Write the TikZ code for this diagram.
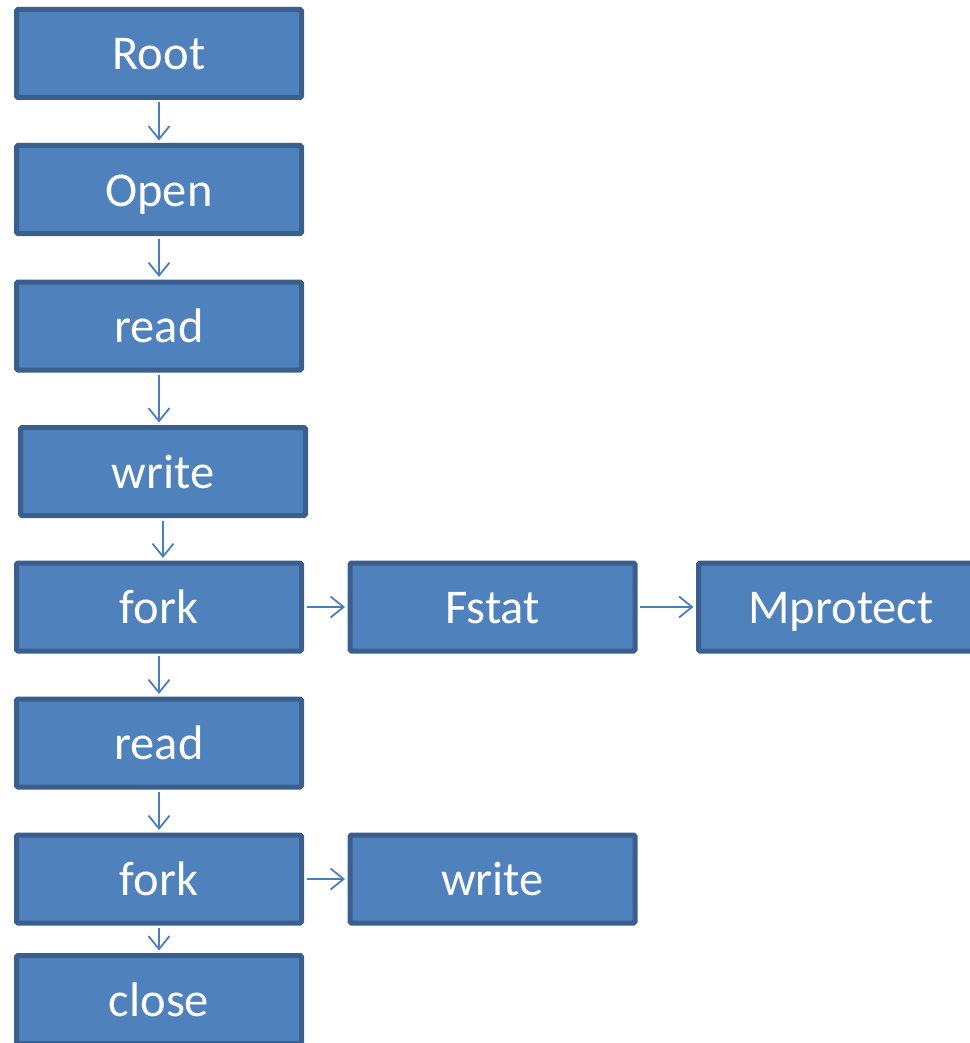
\documentclass[tikz,border=0pt]{standalone}
\usepackage{fontspec}
\setmainfont{Carlito}
\usetikzlibrary{arrows.meta,positioning}

\definecolor{boxfill}{HTML}{4F81BD}
\definecolor{boxline}{HTML}{3A5F8D}
\definecolor{linkcol}{HTML}{4A7EBB}

\begin{document}
\begin{tikzpicture}[
    x=1pt, y=-1pt,
    % ~~~ the call boxes ~~~~~~~~~~~~~~~~~~~~~~~~~~~~~~~
    callbox/.style={
        draw=boxline, fill=boxfill, line width=5pt,
        rounded corners=1.5pt,
        minimum width=285pt, minimum height=88pt,
        inner sep=0pt, text=white,
        text height=33pt, text depth=0pt,
        font=\fontsize{48.5}{52}\selectfont
    },
    % ~~~ the thin connectors ~~~~~~~~~~~~~~~~~~~~~~~~~~
    link/.style={
        draw=linkcol, line width=1.8pt,
        -{Straight Barb[length=13pt,width=21pt,line width=1.8pt]},
        shorten <=2.5pt, shorten >=2.5pt
    },
 ]
    \useasboundingbox (0,0) rectangle (969,1043);
    % ~~~ main column ~~~~~~~~~~~~~~~~~~~~~~~~~~~~~~~~~~~~
    \node[callbox] (root)   at (159, 53.5) {Root};
    \node[callbox] (open)   at (159,189.5) {Open};
    \node[callbox] (readA)  at (159,326)   {read};
    \node[callbox] (writeA) at (163,471.5) {write};
    \node[callbox] (forkA)  at (159,607)   {fork};
    \node[callbox] (readB)  at (159,743)   {read};
    \node[callbox] (forkB)  at (159,879)   {fork};
    \node[callbox] (close)  at (159,999.5) {close};
    % ~~~ side branches ~~~~~~~~~~~~~~~~~~~~~~~~~~~~~~~~~~
    \node[callbox] (fstat)    at (492.5,607) {Fstat};
    \node[callbox] (mprotect) at (841,607)   {Mprotect};
    \node[callbox] (writeB)   at (492.5,879) {write};
    % ~~~ vertical links ~~~~~~~~~~~~~~~~~~~~~~~~~~~~~~~~~
    \foreach \a/\b in {root/open,open/readA,readA/writeA,writeA/forkA,
                       forkA/readB,readB/forkB,forkB/close}
        \draw[link] (\a.south) -- (\a.south |- \b.north);
    % ~~~ horizontal links ~~~~~~~~~~~~~~~~~~~~~~~~~~~~~~~
    \foreach \a/\b in {forkA/fstat,fstat/mprotect,forkB/writeB}
        \draw[link] (\a.east) -- (\b.west);
\end{tikzpicture}
\end{document}
